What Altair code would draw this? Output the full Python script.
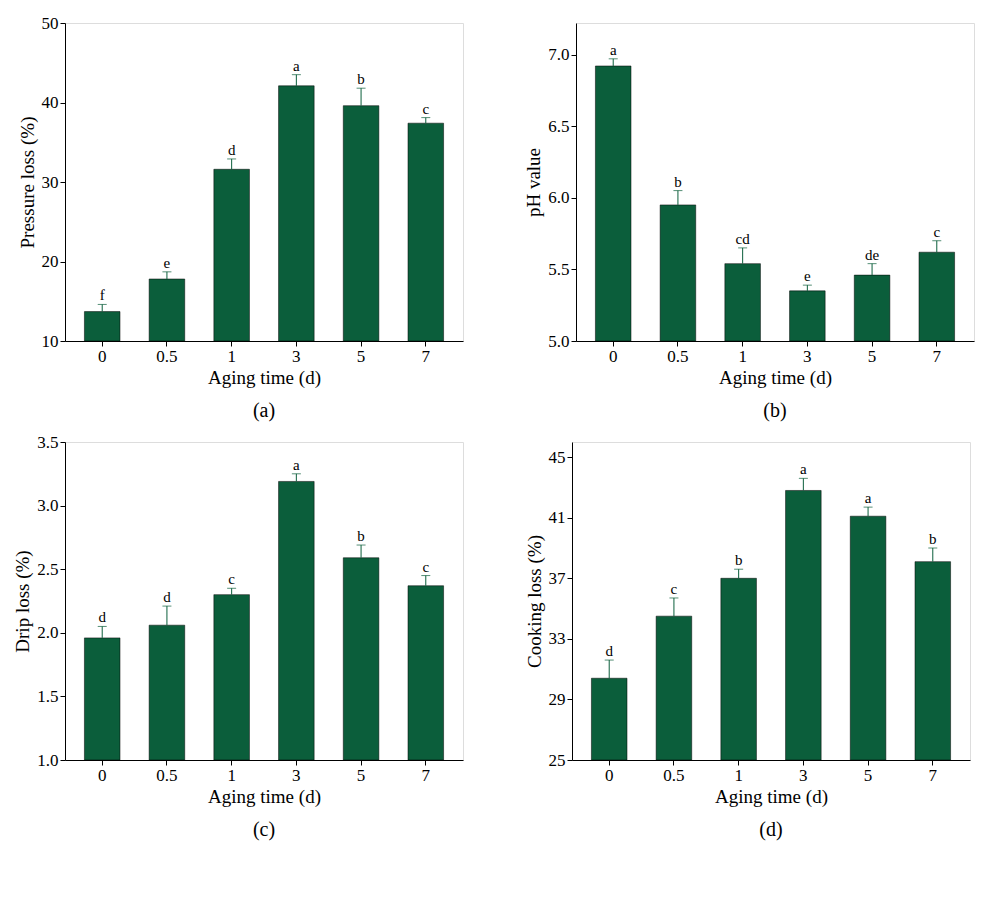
import altair as alt
import pandas as pd

days = ["0", "0.5", "1", "3", "5", "7"]

pressure = [13.7, 17.8, 31.6, 42.1, 39.6, 37.4]
pressure_err = [0.9, 0.9, 1.3, 1.4, 2.2, 0.7]
pressure_sig = ["f", "e", "d", "a", "b", "c"]

ph = [6.92, 5.95, 5.54, 5.35, 5.46, 5.62]
ph_err = [0.05, 0.10, 0.11, 0.04, 0.08, 0.08]
ph_sig = ["a", "b", "cd", "e", "de", "c"]

drip = [1.96, 2.06, 2.30, 3.19, 2.59, 2.37]
drip_err = [0.09, 0.15, 0.05, 0.06, 0.10, 0.08]
drip_sig = ["d", "d", "c", "a", "b", "c"]

cooking = [30.4, 34.5, 37.0, 42.8, 41.1, 38.1]
cooking_err = [1.2, 1.2, 0.6, 0.8, 0.6, 0.9]
cooking_sig = ["d", "c", "b", "a", "a", "b"]

GREEN = "#0b5e3b"
FONT = "Liberation Serif"


def panel(vals, errs, sig, ytitle, domain, tick_step, caption):
    df = pd.DataFrame({"day": days, "v": vals, "e": errs, "sig": sig})
    df["top"] = df["v"] + df["e"]
    axis_style = dict(labelFontSize=17, titleFontSize=19, labelFont=FONT, titleFont=FONT,
                      tickColor="black", domain=True, domainColor="black",
                      labelColor="black", titleColor="black", titleFontWeight="normal")
    x = alt.X("day:N", sort=days, title="Aging time (d)",
              scale=alt.Scale(paddingInner=0.45, paddingOuter=0.3),
              axis=alt.Axis(labelAngle=0, **axis_style))
    ticks = []
    t = domain[0]
    while t <= domain[1] + 1e-9:
        ticks.append(round(t, 3))
        t += tick_step
    y = alt.Y("v:Q", title=ytitle,
              scale=alt.Scale(domain=domain, nice=False, zero=False),
              axis=alt.Axis(values=ticks, grid=False,
                            format=".1f" if tick_step < 1 else "d", **axis_style))
    base = alt.Chart(df)
    bars = base.mark_bar(color=GREEN, stroke="black", strokeWidth=0.5, clip=True).encode(
        x=x, y=y, y2=alt.datum(domain[0]))
    rule = base.mark_rule(color=GREEN).encode(x=x, y="v:Q", y2="top:Q")
    cap = base.mark_tick(color=GREEN, size=9, thickness=1, orient="horizontal").encode(
        x=x, y="top:Q")
    txt = base.mark_text(font=FONT, fontSize=15, dy=-9, color="black").encode(
        x=x, y="top:Q", text="sig:N")
    return alt.layer(bars, rule, cap, txt).properties(
        width=398, height=318,
        title=alt.TitleParams(caption, orient="bottom", font=FONT, fontSize=20,
                              fontWeight="normal", offset=14, color="black"))


a = panel(pressure, pressure_err, pressure_sig, "Pressure loss (%)", [10, 50], 5, "(a)")
b = panel(ph, ph_err, ph_sig, "pH value", [5.0, 7.22], 0.5, "(b)")
c = panel(drip, drip_err, drip_sig, "Drip loss (%)", [1.0, 3.5], 0.5, "(c)")
d = panel(cooking, cooking_err, cooking_sig, "Cooking loss (%)", [25, 46], 2, "(d)")

chart = alt.vconcat(
    alt.hconcat(a, b, spacing=60),
    alt.hconcat(c, d, spacing=60),
    spacing=10,
).configure_view(stroke="black", strokeWidth=1).configure(background="white")

chart.save("out.html", embed_options={"renderer": "svg", "actions": False})
